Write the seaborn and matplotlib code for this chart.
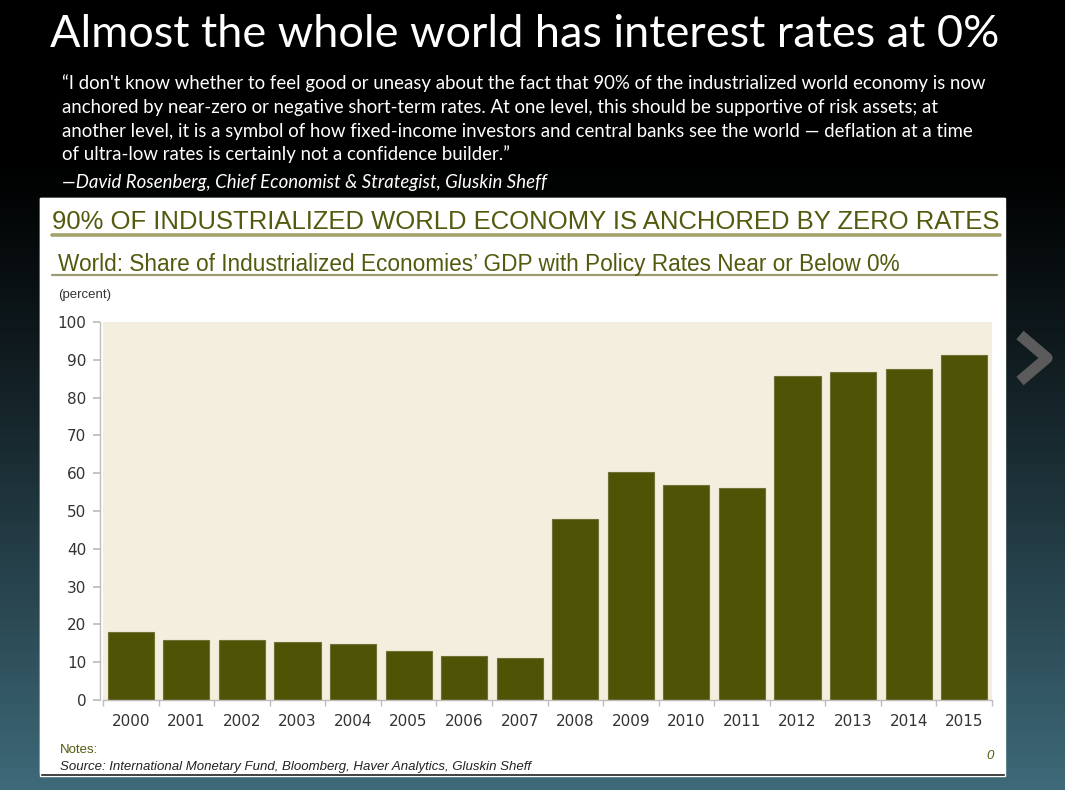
import numpy as np
import seaborn as sns
import matplotlib.pyplot as plt
from matplotlib.patches import Rectangle
from matplotlib.lines import Line2D
from matplotlib import font_manager

years = ["2000", "2001", "2002", "2003", "2004", "2005", "2006", "2007",
         "2008", "2009", "2010", "2011", "2012", "2013", "2014", "2015"]
share = [18.0, 15.9, 16.0, 15.4, 14.9, 12.9, 11.6, 11.1,
         47.8, 60.2, 57.0, 56.1, 85.6, 86.7, 87.5, 91.2]
y_ticks = [0, 10, 20, 30, 40, 50, 60, 70, 80, 90, 100]

title = "Almost the whole world has interest rates at 0%"
quote_lines = [
    "\u201cI don't know whether to feel good or uneasy about the fact that 90% of the industrialized world economy is now",
    "anchored by near-zero or negative short-term rates. At one level, this should be supportive of risk assets; at",
    "another level, it is a symbol of how fixed-income investors and central banks see the world \u2014 deflation at a time",
    "of ultra-low rates is certainly not a confidence builder.\u201d",
]
author = "\u2014David Rosenberg, Chief Economist & Strategist, Gluskin Sheff"
header = "90% OF INDUSTRIALIZED WORLD ECONOMY IS ANCHORED BY ZERO RATES"
subtitle = "World: Share of Industrialized Economies\u2019 GDP with Policy Rates Near or Below 0%"
source = "Source: International Monetary Fund, Bloomberg, Haver Analytics, Gluskin Sheff"

W, H = 1065, 790
OLIVE = "#4f5306"
HEAD = "#55590e"
RULE = "#a4a36c"

sns.set_theme(style="white")
installed = {f.name for f in font_manager.fontManager.ttflist}
narrow = "Liberation Sans Narrow" if "Liberation Sans Narrow" in installed else "Liberation Sans"
plt.rcParams["font.family"] = ["DejaVu Sans"]


def fx(x):
    return x / W


def fy(y):
    return 1 - y / H


fig = plt.figure(figsize=(W / 100, H / 100), dpi=100)

# slide background gradient
bg = fig.add_axes([0, 0, 1, 1], zorder=0)
t = np.linspace(0, 1, 400)
ramp = np.clip((t - 0.2) / 0.8, 0, 1) ** 1.15
teal = np.array([62, 106, 121]) / 255
grad = ramp[:, None, None] * teal[None, None, :] * np.ones((1, 2, 1))
bg.imshow(grad, aspect="auto", extent=[0, 1, 1, 0])
bg.set_xlim(0, 1)
bg.set_ylim(1, 0)
bg.axis("off")

# white panel with shadow at bottom
bg.add_patch(Rectangle((fx(40), (H - 776) / H), fx(1005) - fx(40), (776 - 198) / H,
                       transform=fig.transFigure, facecolor="#1a1a1a", zorder=2))
bg.add_patch(Rectangle((fx(40), (H - 773) / H), fx(1004) - fx(40), (773 - 198) / H,
                       transform=fig.transFigure, facecolor="white", zorder=3))

# next arrow
fig.add_artist(Line2D([fx(1020), fx(1047), fx(1020)], [fy(335), fy(358), fy(381)],
                      color="#5b5b5b", lw=8, solid_joinstyle="round",
                      solid_capstyle="butt", zorder=5))

texts = []
t_title = fig.text(fx(50), fy(47), title, color="white", fontsize=30,
                   family=["Lato", "DejaVu Sans"], zorder=6)
texts.append((t_title, 950))
q = []
for i, line in enumerate(quote_lines):
    tt = fig.text(fx(62), fy(89 + 23.8 * i), line, color="white", fontsize=12,
                  family=["Lato", "DejaVu Sans"], zorder=6)
    q.append(tt)
t_auth = fig.text(fx(62), fy(188), author, color="white", fontsize=12,
                  family=["Lato", "DejaVu Sans"], style="italic", zorder=6)

t_head = fig.text(fx(52), fy(229), header, color=HEAD, fontsize=20,
                  family=[narrow], zorder=6)
texts.append((t_head, 948))
t_sub = fig.text(fx(58), fy(271), subtitle, color=HEAD, fontsize=15,
                 family=[narrow], zorder=6)
texts.append((t_sub, 845))
fig.text(fx(58), fy(298), "(percent)", color="#333333", fontsize=9.5,
         family=[narrow], zorder=6)
fig.text(fx(60), fy(753), "Notes:", color="#55590e", fontsize=9.5,
         family=[narrow], zorder=6)
fig.text(fx(60), fy(770), source, color="#222222", fontsize=9.5,
         family=[narrow], style="italic", zorder=6)
fig.text(fx(994), fy(759), "0", color="#55590e", fontsize=9.5,
         family=[narrow], style="italic", ha="right", zorder=6)

fig.add_artist(Line2D([fx(52), fx(1000)], [fy(234.5)] * 2, color=RULE, lw=2.6, zorder=6))
fig.add_artist(Line2D([fx(52), fx(997)], [fy(275)] * 2, color="#9c9a70", lw=1.6, zorder=6))

# chart
ax = fig.add_axes([fx(103), fy(700), fx(992) - fx(103), (700 - 322) / H], zorder=7)
ax.set_facecolor("#f3eedd")
sns.barplot(x=years, y=share, color=OLIVE, width=0.83, saturation=1,
            edgecolor="#6e7133", linewidth=0.8, ax=ax)
ax.set_xlim(-0.5, len(years) - 0.5)
ax.set_ylim(0, 100)
ax.set_yticks(y_ticks)
ax.set_xticks(np.arange(-0.5, len(years)), minor=True)
for s in ["top", "right"]:
    ax.spines[s].set_visible(False)
for s in ["left", "bottom"]:
    ax.spines[s].set_color("#bdbdbd")
    ax.spines[s].set_linewidth(1)
ax.spines["left"].set_position(("outward", 2))
ax.tick_params(axis="y", which="major", left=True, length=5, color="#bdbdbd",
               labelsize=11, labelcolor="#333333", pad=5)
ax.tick_params(axis="x", which="major", bottom=False, labelsize=11,
               labelcolor="#333333", pad=4)
ax.tick_params(axis="x", which="minor", bottom=True, length=4, color="#bdbdbd")
ax.set_xlabel("")
ax.set_ylabel("")

# fit text widths to the slide
fig.canvas.draw()
r = fig.canvas.get_renderer()
for tt, target in texts:
    w = tt.get_window_extent(r).width
    tt.set_fontsize(tt.get_fontsize() * target / w)
w = q[0].get_window_extent(r).width
qs = q[0].get_fontsize() * 922 / w
for tt in q:
    tt.set_fontsize(qs)
t_auth.set_fontsize(qs)

fig.savefig("out.png", dpi=100)
